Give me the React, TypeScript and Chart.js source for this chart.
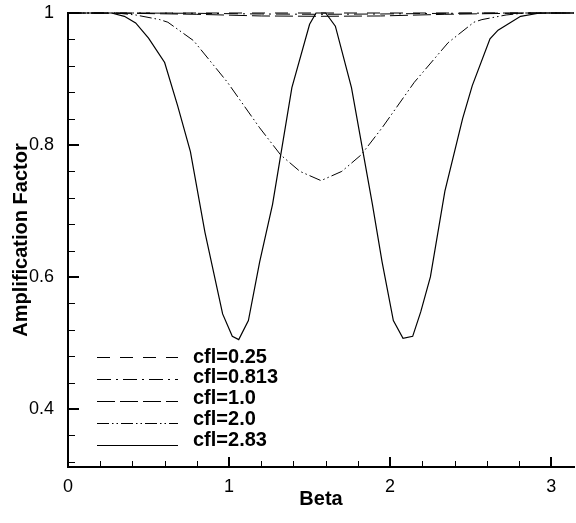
import React, { useEffect, useRef } from "react";
import { Chart, registerables } from "chart.js";

Chart.register(...registerables);

const PI = Math.PI;

// Series labels
const seriesLabels = ["cfl=0.25", "cfl=0.813", "cfl=1.0", "cfl=2.0", "cfl=2.83"];

// cfl = 0.25
const beta025 = [0, 0.8, 1.5708, 2.34, PI];
const amp025 = [1, 1, 1, 1, 1];

// cfl = 0.813
const beta0813 = [0, 0.4, 0.8, 1.2, 1.5708, 1.94, 2.34, 2.74, PI];
const amp0813 = [1, 1, 0.9995, 0.9985, 0.998, 0.9985, 0.9995, 1, 1];

// cfl = 1.0
const beta10 = [0, 0.4, 0.8, 1.2, 1.5708, 1.94, 2.34, 2.74, PI];
const amp10 = [1, 0.9995, 0.998, 0.9955, 0.995, 0.9955, 0.998, 0.9995, 1];

// cfl = 2.0
const beta20 = [0, 0.3, 0.42, 0.57, 0.62, 0.78, 0.99, 1.19, 1.32, 1.44, 1.5708, 1.70, 1.82, 1.95, 2.15, 2.36, 2.52, 2.57, 2.72, 2.84, PI];
const amp20 = [1, 1, 0.997, 0.99, 0.986, 0.958, 0.895, 0.826, 0.785, 0.76, 0.746, 0.76, 0.785, 0.826, 0.895, 0.955, 0.986, 0.99, 0.997, 1, 1];

// cfl = 2.83
const beta283 = [0, 0.2, 0.27, 0.35, 0.42, 0.5, 0.6, 0.68, 0.76, 0.85, 0.96, 1.02, 1.06, 1.12, 1.19, 1.27, 1.39, 1.5, 1.54, 1.6, 1.66, 1.76, 1.89, 1.95, 2.02, 2.08, 2.14, 2.19, 2.25, 2.34, 2.45, 2.51, 2.62, 2.67, 2.81, 2.93, PI];
const amp283 = [1, 1, 1, 0.995, 0.985, 0.962, 0.925, 0.86, 0.79, 0.668, 0.544, 0.51, 0.505, 0.534, 0.623, 0.71, 0.887, 0.983, 1, 1, 0.98, 0.887, 0.71, 0.623, 0.534, 0.507, 0.51, 0.547, 0.6, 0.73, 0.84, 0.89, 0.961, 0.974, 0.995, 1, 1];

// Axis ticks
const xTickValues = [0, 1, 2, 3];
const yTickValues = [0.4, 0.6, 0.8, 1];
const xMin = 0;
const xMax = PI;
const yMin = 0.312;
const yMax = 1;

const FONT = '"Liberation Sans", Arial, Helvetica, sans-serif';

function pts(xs: number[], ys: number[]) {
  return xs.map((x, i) => ({ x, y: ys[i] }));
}

const tickPlugin = {
  id: "innerTicks",
  afterDraw(chart: any) {
    const { ctx, chartArea, scales } = chart;
    const x = scales.x;
    const y = scales.y;
    ctx.save();
    ctx.strokeStyle = "#000";
    for (let k = 1; k * 0.2 <= xMax + 1e-9; k++) {
      const v = k * 0.2;
      const major = Math.abs(v - Math.round(v)) < 1e-6;
      const len = major ? 10 : 6;
      ctx.lineWidth = major ? 2 : 1;
      let px = x.getPixelForValue(v);
      px = major ? Math.round(px) : Math.round(px) + 0.5;
      ctx.beginPath();
      ctx.moveTo(px, chartArea.bottom);
      ctx.lineTo(px, chartArea.bottom - len);
      ctx.stroke();
    }
    for (let k = 8; k * 0.04 <= yMax + 1e-9; k++) {
      const v = k * 0.04;
      if (v < yMin) continue;
      const major = Math.abs(v * 5 - Math.round(v * 5)) < 1e-6;
      const len = major ? 11 : 7;
      ctx.lineWidth = major ? 2 : 1;
      let py = y.getPixelForValue(v);
      py = major ? Math.round(py) : Math.round(py) + 0.5;
      ctx.beginPath();
      ctx.moveTo(chartArea.left, py);
      ctx.lineTo(chartArea.left + len, py);
      ctx.stroke();
    }
    ctx.restore();
  },
};

const legendPlugin = {
  id: "insideLegend",
  afterDatasetsDraw(chart: any) {
    const { ctx } = chart;
    chart.data.datasets.forEach((ds: any, i: number) => {
      const ly = 357 + i * 22;
      const ty = 357 + i * 20.8;
      ctx.save();
      ctx.strokeStyle = "#000";
      ctx.lineWidth = ds.borderWidth;
      ctx.setLineDash(ds.borderDash || []);
      ctx.beginPath();
      ctx.moveTo(97, Math.round(ly) + 0.5);
      ctx.lineTo(178, Math.round(ly) + 0.5);
      ctx.stroke();
      ctx.setLineDash([]);
      ctx.font = `bold 20px ${FONT}`;
      ctx.textBaseline = "middle";
      ctx.textAlign = "left";
      ctx.fillStyle = "#000";
      ctx.fillText(ds.label, 193, ty);
      ctx.restore();
    });
  },
};

export default function App() {
  const canvasRef = useRef<HTMLCanvasElement | null>(null);

  useEffect(() => {
    if (!canvasRef.current) return;
    const common = {
      borderColor: "#000",
      backgroundColor: "#000",
      pointRadius: 0,
      fill: false,
      tension: 0,
      clip: 4,
    };
    const chart = new Chart(canvasRef.current, {
      type: "line",
      data: {
        datasets: [
          { ...common, label: seriesLabels[0], data: pts(beta025, amp025), borderWidth: 1.2, borderDash: [13, 10] },
          { ...common, label: seriesLabels[1], data: pts(beta0813, amp0813), borderWidth: 1, borderDash: [14, 5, 2, 5] },
          { ...common, label: seriesLabels[2], data: pts(beta10, amp10), borderWidth: 1, borderDash: [18, 5] },
          { ...common, label: seriesLabels[3], data: pts(beta20, amp20), borderWidth: 1, borderDash: [12, 3, 1.5, 3, 1.5, 3] },
          { ...common, label: seriesLabels[4], data: pts(beta283, amp283), borderWidth: 1.2, borderDash: [] },
        ],
      },
      options: {
        responsive: false,
        animation: false,
        devicePixelRatio: 1,
        layout: { padding: { top: 13, right: 2, left: 0, bottom: 0 } },
        plugins: {
          legend: { display: false },
          tooltip: { enabled: false },
        },
        scales: {
          x: {
            type: "linear",
            min: xMin,
            max: xMax,
            afterBuildTicks: (s: any) => {
              s.ticks = xTickValues.map((v) => ({ value: v }));
            },
            afterFit: (s: any) => {
              s.height = 56;
              s.paddingLeft = 0;
              s.paddingRight = 0;
            },
            grid: { display: false, drawTicks: false },
            border: { display: true, color: "#000", width: 2 },
            ticks: {
              color: "#000",
              padding: 9,
              maxRotation: 0,
              font: { family: FONT, size: 18 },
              callback: (v: any) => String(v),
            },
            title: {
              display: true,
              text: "Beta",
              color: "#000",
              font: { family: FONT, size: 20, weight: "bold" },
              padding: { top: 0, bottom: 12 },
            },
          },
          y: {
            type: "linear",
            min: yMin,
            max: yMax,
            afterBuildTicks: (s: any) => {
              s.ticks = yTickValues.map((v) => ({ value: v }));
            },
            afterFit: (s: any) => {
              s.width = 68;
              s.paddingTop = 0;
              s.paddingBottom = 0;
            },
            grid: { display: false, drawTicks: false },
            border: { display: true, color: "#000", width: 2 },
            ticks: {
              color: "#000",
              padding: 14,
              font: { family: FONT, size: 18 },
              callback: (v: any) => String(v),
            },
            title: {
              display: true,
              text: "Amplification Factor",
              color: "#000",
              font: { family: FONT, size: 20, weight: "bold" },
              padding: { top: 9, bottom: 0 },
            },
          },
        },
      },
      plugins: [tickPlugin, legendPlugin],
    } as any);
    return () => chart.destroy();
  }, []);

  return (
    <canvas
      ref={canvasRef}
      width={576}
      height={523}
      style={{ position: "fixed", left: 0, top: 0, width: 576, height: 523, background: "#fff" }}
    />
  );
}
